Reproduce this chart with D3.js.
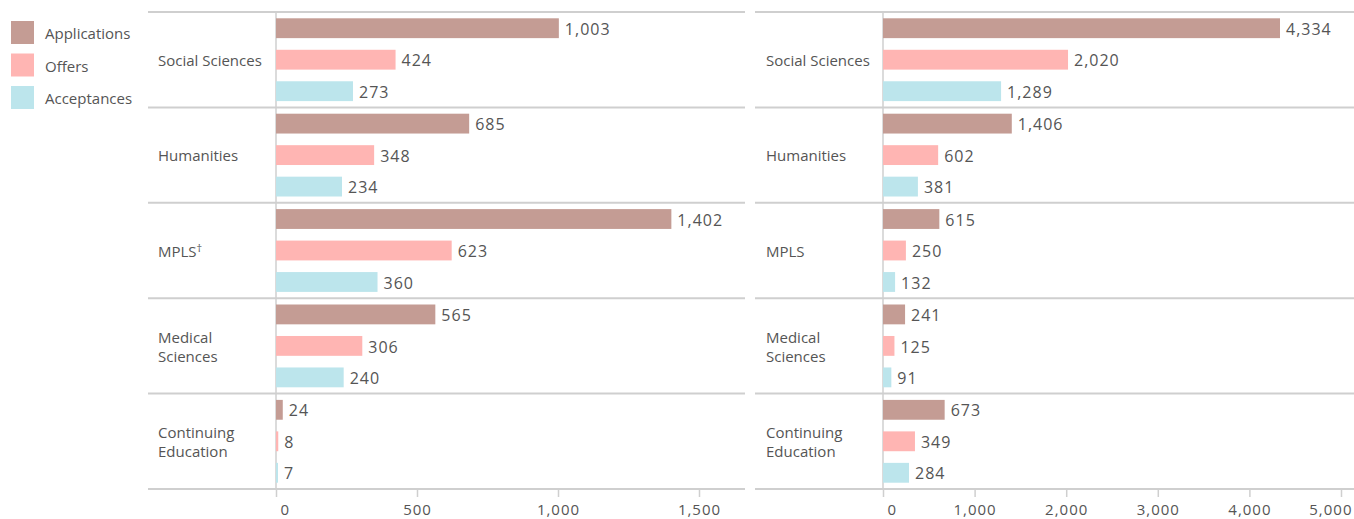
<!DOCTYPE html>
<html>
<head>
<meta charset="utf-8">
<script src="https://cdn.jsdelivr.net/npm/d3@7"></script>
<style>
  body { margin: 0; background: #fff; }
  svg text { font-family: "Open Sans", "Noto Sans", sans-serif; fill: #555; }
</style>
</head>
<body>
<div id="chart"></div>
<script>
var width = 1354;
var height = 519;

// data
var series = ["Applications", "Offers", "Acceptances"];
var colors = ["#c49c94", "#ffb5b3", "#bce5ec"];
var categoriesLeft = [["Social Sciences"], ["Humanities"], ["MPLS†"], ["Medical", "Sciences"], ["Continuing", "Education"]];
var categoriesRight = [["Social Sciences"], ["Humanities"], ["MPLS"], ["Medical", "Sciences"], ["Continuing", "Education"]];
var applicationsLeft = [1003, 685, 1402, 565, 24];
var offersLeft = [424, 348, 623, 306, 8];
var acceptancesLeft = [273, 234, 360, 240, 7];
var applicationsRight = [4334, 1406, 615, 241, 673];
var offersRight = [2020, 602, 250, 125, 349];
var acceptancesRight = [1289, 381, 132, 91, 284];
var ticksLeft = [0, 500, 1000, 1500];
var ticksRight = [0, 1000, 2000, 3000, 4000, 5000];

var plotTop = 12, plotBottom = 489;

var svg = d3.select("#chart").append("svg")
  .attr("width", width)
  .attr("height", height);

// legend
var legend = svg.append("g");
series.forEach(function(s, i) {
  legend.append("rect")
    .attr("x", 11).attr("y", 21 + i * 32.5)
    .attr("width", 23).attr("height", 23)
    .attr("fill", colors[i]);
  legend.append("text")
    .attr("x", 45).attr("y", 34 + i * 32.5)
    .attr("dy", "0.35em")
    .attr("font-size", 15)
    .text(s);
});

function drawPanel(opts) {
  var g = svg.append("g");
  var rows = opts.cats.map(function(c, i) { return i; });

  var y = d3.scaleBand().domain(rows).range([plotTop, plotBottom]);
  var ySub = d3.scaleBand().domain(series).range([0, y.bandwidth()]).paddingInner(0.37).paddingOuter(0.2);
  var x = d3.scaleLinear().domain([0, opts.max]).range([opts.x0, opts.x1]);

  // row separator lines
  var edges = rows.map(function(r) { return y(r); }).concat([plotBottom]);
  g.selectAll(".sep").data(edges).enter().append("line")
    .attr("x1", opts.left).attr("x2", opts.right)
    .attr("y1", function(d) { return d; }).attr("y2", function(d) { return d; })
    .attr("stroke", "#cfcfcf").attr("stroke-width", 2);

  // axis
  var axis = g.append("g")
    .attr("transform", "translate(0," + plotBottom + ")")
    .call(d3.axisBottom(x).tickValues(opts.ticks).tickSize(8).tickPadding(7).tickFormat(d3.format(",")));
  axis.select(".domain").remove();
  axis.selectAll(".tick line").attr("stroke", "#cfcfcf").attr("stroke-width", 1.5);
  axis.selectAll(".tick text").attr("font-size", 15).attr("fill", "#555").style("letter-spacing", "1px")
    .attr("font-family", "'Open Sans', sans-serif");
  // first label sits just right of the zero tick
  axis.selectAll(".tick text").filter(function(d) { return d === 0; })
    .attr("text-anchor", "start").attr("x", 4);
  // keep the last label inside the panel
  if (opts.clipLast) {
    axis.selectAll(".tick text").filter(function(d) { return d === opts.max; })
      .attr("text-anchor", "end").attr("x", width - 2 - x(opts.max));
  }

  // zero line
  g.append("line")
    .attr("x1", x(0)).attr("x2", x(0))
    .attr("y1", plotTop).attr("y2", plotBottom)
    .attr("stroke", "#cfcfcf").attr("stroke-width", 1.5);

  // category labels
  opts.cats.forEach(function(lines, i) {
    var cy = y(i) + y.bandwidth() / 2;
    var t = g.append("text")
      .attr("x", opts.labelX)
      .attr("y", cy + 1 - (lines.length - 1) * 9.5)
      .attr("font-size", 15);
    lines.forEach(function(line, j) {
      var ts = t.append("tspan").attr("x", opts.labelX).attr("dy", j === 0 ? "0.35em" : 19);
      if (line.indexOf("†") >= 0) {
        ts.text(line.replace("†", ""));
        t.append("tspan").attr("dy", "-0.45em").attr("font-size", 11).text("†");
      } else {
        ts.text(line);
      }
    });
  });

  // bars
  var data = [];
  opts.cats.forEach(function(c, i) {
    series.forEach(function(s, k) {
      data.push({ row: i, series: s, k: k, value: opts.values[k][i] });
    });
  });

  g.selectAll(".bar").data(data).enter().append("rect")
    .attr("class", "bar")
    .attr("x", x(0))
    .attr("y", function(d) { return y(d.row) + ySub(d.series); })
    .attr("width", function(d) { return Math.max(1.5, x(d.value) - x(0)); })
    .attr("height", ySub.bandwidth())
    .attr("fill", function(d) { return colors[d.k]; });

  g.selectAll(".val").data(data).enter().append("text")
    .attr("class", "val")
    .attr("x", function(d) { return Math.max(x(0) + 1.5, x(d.value)) + 6; })
    .attr("y", function(d) { return y(d.row) + ySub(d.series) + ySub.bandwidth() / 2 + 1; })
    .attr("dy", "0.35em")
    .attr("font-size", 16)
    .style("letter-spacing", "1px")
    .text(function(d) { return d3.format(",")(d.value); });
}

drawPanel({
  cats: categoriesLeft,
  values: [applicationsLeft, offersLeft, acceptancesLeft],
  max: 1500, x0: 276, x1: 699,
  ticks: ticksLeft,
  left: 148, right: 745, labelX: 158
});

drawPanel({
  cats: categoriesRight,
  values: [applicationsRight, offersRight, acceptancesRight],
  max: 5000, x0: 883, x1: 1341,
  ticks: ticksRight,
  left: 755, right: 1354, labelX: 766, clipLast: true
});
</script>
</body>
</html>
